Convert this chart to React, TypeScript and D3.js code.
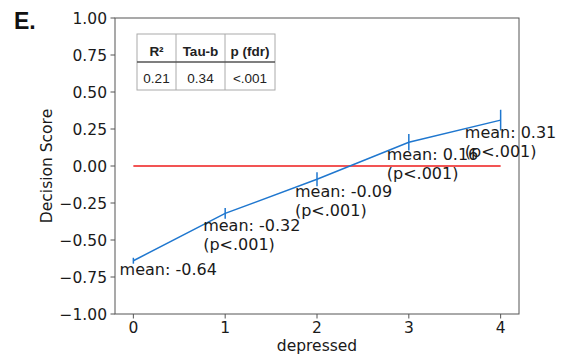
import React from "react";
import * as d3 from "d3";

// Mean decision score per level of "depressed", with error half-widths
const levels = [0, 1, 2, 3, 4];
const means = [-0.64, -0.32, -0.09, 0.16, 0.31];
const errors = [0.02, 0.037, 0.047, 0.056, 0.07];
const pLabels = ["", "(p<.001)", "(p<.001)", "(p<.001)", "(p<.001)"];
// horizontal label shift in x-units
const labelShift = [-0.15, -0.24, -0.24, -0.24, -0.39];

const yTicks = [-1, -0.75, -0.5, -0.25, 0, 0.25, 0.5, 0.75, 1];
const xTicks = [0, 1, 2, 3, 4];

const tableHeader = ["R²", "Tau-b", "p (fdr)"];
const tableRow = ["0.21", "0.34", "<.001"];

const W = 566;
const H = 362;
const plot = { left: 115, right: 519, top: 18, bottom: 314 };

const FONT = "'DejaVu Sans', sans-serif";
const FS = 15.5;
const FS_ANN = 16;

export default function App() {
  const x = d3.scaleLinear().domain([-0.2, 4.2]).range([plot.left, plot.right]);
  const y = d3.scaleLinear().domain([-1, 1]).range([plot.bottom, plot.top]);

  const line = d3
    .line<number>()
    .x((_, i) => x(levels[i]))
    .y((d) => y(d));

  const fmt = (v: number) => {
    const s = Math.abs(v).toFixed(2);
    return v < 0 ? "\u2212" + s : s;
  };

  const spine = "#555";
  const textColor = "#1a1a1a";

  // table geometry
  const tX = 137;
  const tY = 34;
  const colW = [39, 49, 50];
  const rowH = [28, 28];
  const colX = [tX, tX + colW[0], tX + colW[0] + colW[1], tX + colW[0] + colW[1] + colW[2]];

  return (
    <div style={{ margin: -8 }}>
      <svg width={W} height={H} style={{ display: "block", background: "#fff" }}>
        {/* panel letter */}
        <text x={14} y={28.5} fontFamily="'Liberation Sans', Arial, sans-serif" fontWeight="bold" fontSize={23} fill="#111">
          E.
        </text>

        {/* frame */}
        <rect
          x={plot.left}
          y={plot.top}
          width={plot.right - plot.left}
          height={plot.bottom - plot.top}
          fill="none"
          stroke={spine}
          strokeWidth={1}
        />

        {/* y axis ticks */}
        {yTicks.map((t) => (
          <g key={"y" + t}>
            <line x1={plot.left - 4.5} x2={plot.left} y1={y(t)} y2={y(t)} stroke={spine} strokeWidth={1} />
            <text
              x={plot.left - 8}
              y={y(t)}
              dy="0.36em"
              textAnchor="end"
              fontFamily={FONT}
              fontSize={FS}
              fill={textColor}
            >
              {fmt(t)}
            </text>
          </g>
        ))}

        {/* x axis ticks */}
        {xTicks.map((t) => (
          <g key={"x" + t}>
            <line x1={x(t)} x2={x(t)} y1={plot.bottom} y2={plot.bottom + 4.5} stroke={spine} strokeWidth={1} />
            <text x={x(t)} y={332.5} textAnchor="middle" fontFamily={FONT} fontSize={FS} fill={textColor}>
              {t}
            </text>
          </g>
        ))}

        {/* axis titles */}
        <text x={317} y={351} textAnchor="middle" fontFamily={FONT} fontSize={FS} fill={textColor}>
          depressed
        </text>
        <text
          transform={`translate(51.5, ${y(0)}) rotate(-90)`}
          textAnchor="middle"
          fontFamily={FONT}
          fontSize={FS}
          fill={textColor}
        >
          Decision Score
        </text>

        {/* zero reference */}
        <line x1={x(0)} x2={x(4)} y1={y(0)} y2={y(0)} stroke="#ee1b1b" strokeWidth={1.5} />

        {/* mean line */}
        <path d={line(means) || ""} fill="none" stroke="#1f77cf" strokeWidth={1.5} />

        {/* error bars */}
        {levels.map((lv, i) => (
          <line
            key={"e" + lv}
            x1={x(lv)}
            x2={x(lv)}
            y1={y(means[i] - errors[i])}
            y2={y(means[i] + errors[i])}
            stroke="#1f77cf"
            strokeWidth={1.5}
          />
        ))}

        {/* annotations */}
        {levels.map((lv, i) => {
          const lx = x(lv + labelShift[i]);
          const ly = y(means[i]) + (pLabels[i] ? 18 : 14.5);
          return (
            <text key={"a" + lv} fontFamily={FONT} fontSize={FS_ANN} fill={textColor}>
              <tspan x={lx} y={ly}>{`mean: ${means[i].toFixed(2)}`}</tspan>
              {pLabels[i] && (
                <tspan x={lx} y={ly + 18.5}>
                  {pLabels[i]}
                </tspan>
              )}
            </text>
          );
        })}

        {/* stats table */}
        <g fontFamily="'Liberation Sans', Arial, sans-serif" fontSize={13.5} fill="#222">
          <rect x={tX} y={tY} width={colX[3] - tX} height={rowH[0] + rowH[1]} fill="#fff" stroke="#aaa" strokeWidth={1} />
          {[1, 2].map((c) => (
            <line key={"c" + c} x1={colX[c]} x2={colX[c]} y1={tY} y2={tY + rowH[0] + rowH[1]} stroke="#aaa" strokeWidth={1} />
          ))}
          <line x1={tX} x2={colX[3]} y1={tY + rowH[0]} y2={tY + rowH[0]} stroke="#555" strokeWidth={1.5} />
          {tableHeader.map((h, c) => (
            <text
              key={"h" + c}
              x={(colX[c] + colX[c + 1]) / 2}
              y={tY + 22}
              textAnchor="middle"
              fontWeight="bold"
            >
              {h}
            </text>
          ))}
          {tableRow.map((v, c) => (
            <text key={"v" + c} x={(colX[c] + colX[c + 1]) / 2} y={tY + rowH[0] + 21} textAnchor="middle">
              {v}
            </text>
          ))}
        </g>
      </svg>
    </div>
  );
}
